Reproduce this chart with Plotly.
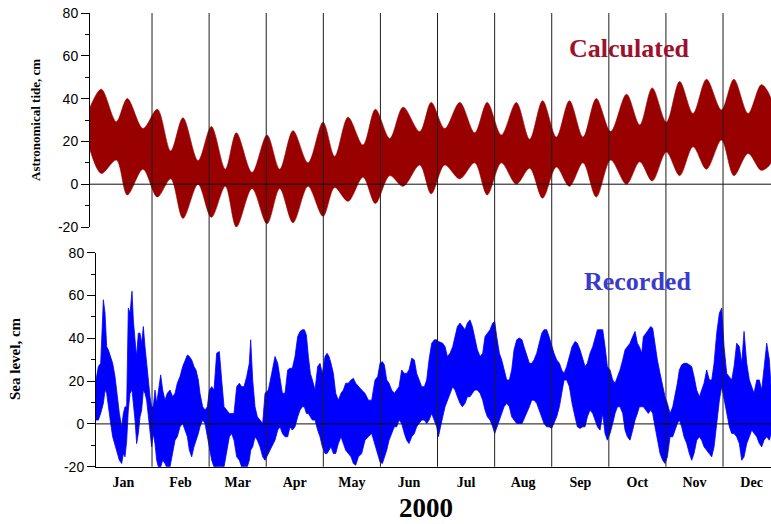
import plotly.graph_objects as go

# ---------------- data (time in months from 1 Jan 2000, values in cm) ----------------
months = ["Jan", "Feb", "Mar", "Apr", "May", "Jun",
          "Jul", "Aug", "Sep", "Oct", "Nov", "Dec"]

# Astronomical (calculated) tide: upper / lower envelope at spring and neap tides
tide_t = [-0.086, 0.112, 0.375, 0.567, 0.842, 1.093, 1.327, 1.542, 1.806, 2.039,
          2.284, 2.477, 2.752, 3.014, 3.236, 3.469, 3.732, 3.995, 4.199, 4.433,
          4.695, 4.912, 5.163, 5.397, 5.688, 5.89, 6.126, 6.39, 6.651, 6.87,
          7.118, 7.38, 7.614, 7.84, 8.081, 8.31, 8.548, 8.78, 9.033, 9.31,
          9.541, 9.76, 10.008, 10.24, 10.475, 10.71, 10.972, 11.19, 11.439, 11.67,
          11.84]
tide_hi = [36, 44.4, 29.2, 40, 26, 35, 15.5, 31, 11, 27,
           7, 24, 5.5, 23, 7, 25, 10, 29, 13, 31.3,
           18.3, 35, 21.4, 36, 24.6, 38.2, 26, 38.2, 24, 38.2,
           23, 38.2, 21, 39, 22, 39, 22, 40, 24.6, 42,
           27.7, 45, 29, 48, 33, 49, 34.7, 49, 33, 46.5,
           40]
tide_lo = [16, 5, 11.3, -5, 7, -6, 2.5, -16, 0, -15.5,
           -1, -20, -2, -18.5, -2, -18, -1, -15, -1.5, -8,
           3.3, -9, 4, -1, 9, -4.5, 9, 2.5, 10, -5,
           10, 0, 7.5, -6.5, 8, -1, 10, -6, 11.3, 0,
           10.5, 1.5, 15, 4, 17.5, 7, 20.6, 4, 14.4, 6.5,
           10]

# Recorded sea level: upper / lower envelope of the hourly record
sea_t = [0.019, 0.060, 0.101, 0.148, 0.177, 0.206, 0.235, 0.276, 0.311, 0.352,
         0.381, 0.428, 0.469, 0.498, 0.527, 0.556, 0.585, 0.615, 0.650, 0.673,
         0.702, 0.731, 0.760, 0.790, 0.819, 0.848, 0.877, 0.906, 0.936, 0.965,
         0.994, 1.023, 1.052, 1.082, 1.111, 1.152, 1.187, 1.227, 1.268, 1.315,
         1.362, 1.403, 1.443, 1.490, 1.537, 1.578, 1.619, 1.654, 1.695, 1.735,
         1.770, 1.811, 1.840, 1.887, 1.928, 1.969, 2.004, 2.045, 2.086, 2.132,
         2.179, 2.220, 2.261, 2.307, 2.354, 2.395, 2.436, 2.483, 2.529, 2.570,
         2.611, 2.658, 2.704, 2.728, 2.763, 2.804, 2.845, 2.891, 2.938,
         2.979, 3.037, 3.096, 3.154, 3.201, 3.242, 3.283, 3.329, 3.376, 3.417,
         3.458, 3.504, 3.551, 3.592, 3.633, 3.668, 3.703, 3.738, 3.773, 3.808,
         3.855, 3.901, 3.942, 3.983, 4.030, 4.065, 4.100, 4.135, 4.176, 4.217,
         4.263, 4.310, 4.351, 4.392, 4.438, 4.485, 4.526, 4.567, 4.614, 4.672,
         4.730, 4.789, 4.847, 4.905, 4.952, 4.993, 5.034, 5.069, 5.110, 5.151,
         5.197, 5.244, 5.285, 5.326, 5.372, 5.419, 5.460, 5.501, 5.548, 5.594,
         5.635, 5.676, 5.723, 5.769, 5.810, 5.851, 5.898, 5.945, 5.985, 6.015,
         6.091, 6.132, 6.172, 6.219, 6.266, 6.307, 6.348, 6.394, 6.435, 6.482,
         6.523, 6.569, 6.610, 6.651, 6.698, 6.745, 6.791, 6.832, 6.873, 6.920,
         6.966, 7.001, 7.036, 7.083, 7.124, 7.165, 7.212, 7.258, 7.299, 7.340,
         7.387, 7.433, 7.480, 7.515, 7.562, 7.608, 7.649, 7.690, 7.737, 7.778,
         7.825, 7.865, 7.912, 7.953, 7.999, 8.040, 8.087, 8.134, 8.175, 8.216,
         8.262, 8.309, 8.356, 8.408, 8.449, 8.496, 8.543, 8.583, 8.624, 8.671,
         8.718, 8.759, 8.800, 8.846,
         8.893, 8.934, 8.974, 9.021, 9.068, 9.109, 9.150, 9.196, 9.243, 9.284,
         9.325, 9.371, 9.418, 9.459, 9.500, 9.535, 9.576, 9.605, 9.652, 9.692,
         9.733, 9.768, 9.809, 9.850, 9.897, 9.943, 9.984, 10.025, 10.072, 10.119,
         10.159, 10.200, 10.235, 10.276, 10.317, 10.364, 10.410, 10.451, 10.492, 10.539,
         10.586, 10.626, 10.667, 10.714, 10.761, 10.802, 10.843, 10.889, 10.936, 10.977,
         11.018, 11.064, 11.111, 11.152, 11.193, 11.239, 11.286, 11.327, 11.368, 11.415,
         11.461, 11.502, 11.543, 11.590, 11.636, 11.677, 11.718, 11.765, 11.811, 11.841]
sea_hi = [20.5, 26.8, 28.3, 58, 51.8, 36.1, 34.6, 31.5, 28.3, 22.1,
          14.3, 4.9, -1.35, 4.9, 8, 8, 54.1, 51.8, 62, 48.6,
          39.3, 31.5, 42.4, 42.4, 37.7, 45.5, 36.1, 26.8, 20.5, 12.7,
          8, 8, 15.8, 9.6, 14.3, 22.9, 15.8, 11.1, 14.3, 15.8,
          12.7, 14.3, 19, 22.1, 26.8, 29.9, 32.2, 31.5, 29.9, 26.8,
          25.2, 20.5, 14.3, 8, 6.5, 8, 15.8, 17.4, 15.8, 33,
          33.8, 20.5, 8, 6.5, 4.9, 4.9, 4.9, 17.4, 19, 17.4,
          17.4, 22.1, 28.3, 39.3, 20.5, 8, 3.3, 1.8, 0.2,
          14.3, 15.8, 23.6, 31.5, 28.3, 20.5, 14.3, 14.3, 25.2, 26,
          26, 31.5, 40.8, 43.2, 44, 44, 41.6, 31.5, 23.6, 20.5,
          15.8, 26.8, 28.3, 23.6, 31.5, 33, 31.5, 28.3, 23.6, 14.3,
          11.1, 14.3, 15.8, 19, 19, 20.5, 21.3, 19, 17.4, 15.8,
          14.3, 11.1, 11.1, 20.5, 22.1, 28.3, 29.1, 27.6, 20.5, 19,
          15.8, 14.3, 15.8, 17.4, 25.2, 23.6, 23.6, 25.2, 30.7, 29.9,
          23.6, 20.5, 17.4, 17.4, 20.5, 29.9, 37.7, 39.3, 39.3, 38.5,
          37.7, 36.1, 31.5, 33, 36.1, 40.8, 45.5, 47.1, 45.5, 44,
          47.1, 48.6, 45.5, 40.8, 34.6, 31.5, 33, 40.8, 42.4, 44,
          47.1, 47.9, 40.8, 33, 29.9, 25.2, 20.5, 20.5, 25.2, 34.6,
          39.3, 40.1, 39.3, 36.1, 31.5, 28.3, 28.3, 29.9, 33, 37.7,
          42.4, 44, 44, 40.8, 36.1, 33, 29.9, 28.3, 25.2, 23.6,
          26.8, 31.5, 36.1, 38.5, 37.7, 34.6, 29.9, 26.8, 28.3, 33,
          36.1, 40.8, 44, 44,
          44, 36.1, 26.8, 25.2, 20.5, 19, 22.1, 25.2, 29.9, 34.6,
          36.1, 37.7, 40.8, 43.2, 37.7, 36.1, 33, 40.8, 42.4, 44,
          45.5, 44.7, 36.1, 29.9, 23.6, 17.4, 12.7, 9.6, 4.9, 8,
          12.7, 19, 25.2, 27.6, 28.3, 28.3, 27.6, 26.8, 22.1, 15.8,
          12.7, 15.8, 19, 25.2, 20.5, 20.5, 28.3, 42.4, 51.8, 54.1,
          36.1, 23.6, 22.1, 20.5, 26.8, 37.7, 36.1, 28.3, 43.2, 28.3,
          20.5, 17.4, 14.3, 20.5, 20.5, 15.8, 25.2, 37.7, 29.9, 17.4]
sea_lo = [1.8, 1.8, 4.9, 9.6, 15.8, 14.3, 8, 0.2, -6, -9.2,
          -12.3, -17, -18.5, -13.85, -15.4, -8, 6.5, 14.3, 15.8, 11.1,
          1.8, -9.2, -4.5, 3.3, 6.5, 15.8, 14.3, 11.1, 6.5, -2.9,
          -10.7, -4.5, -9.2, -17, -20.1, -20.1, -17, -18.5, -20.9, -20.1,
          -13.85, -7.6, -6, -1.35, 0.2, -2.9, -6, -12.3, -15.4, -10.7,
          -7.6, -4.5, -1.35, 1.8, 0.2, -6, -10.7, -17, -20.1, -20.1,
          -20.9, -20.9, -20.1, -13.85, -6, -4.5, -7.6, -15.4, -17, -20.1,
          -20.9, -20.9, -17, -12.3, -10.7, -6, -7.6, -10.7, -15.4,
          -17, -13.85, -10.7, -7.6, -2.9, -1.35, -4.5, -6, -6, -1.35,
          -2.9, -1.35, 3.3, 6.5, 8, 8, 4.9, 4.9, 3.3, 1.8,
          1.8, -2.9, -6, -10.7, -13.85, -13.85, -12.3, -10.7, -13.85, -13.85,
          -9.2, -6, -9.2, -12.3, -13.85, -15.4, -18.5, -19.3, -15.4, -13.85,
          -7.6, -6, -4.5, -9.2, -13.85, -17.8, -18.5, -15.4, -12.3, -7.6,
          -4.5, -1.35, -1.35, 1.8, 0.2, -4.5, -7.6, -9.2, -6, -4.5,
          -1.35, 0.2, 1.8, 1.8, 0.2, 1.8, 4.9, 1.8, -1.35, -6,
          3.3, 8, 11.1, 14.3, 17.4, 15.8, 12.7, 9.6, 8, 9.6,
          12.7, 12.7, 14.3, 15.8, 15.8, 14.3, 11.1, 6.5, 3.3, 1.8,
          -1.35, -4.5, -1.35, 1.8, 4.9, 8, 9.6, 8, 3.3, 1.8,
          0.2, 0.2, 0.2, 1.8, 4.9, 8, 11.1, 11.1, 9.6, 6.5,
          3.3, 0.2, -1.35, -1.35, -2.1, 0.2, 3.3, 8, 14.3, 20.5,
          20.5, 17.4, 9.6, 3.3, -1.35, -2.1, -1.35, -1.35, 3.3, 6.5,
          4.9, 1.8, -1.35, -2.9,
          4.9, -4.5, -7.6, -4.5, 0.2, 4.9, 8, 8, 4.9, -2.9,
          -6, -7.6, -2.9, 1.8, 4.9, 8, 8, 8, 6.5, 4.9,
          6.5, 4.9, -1.35, -6, -13.85, -17, -18.5, -15.4, -6, -6,
          -2.9, 0.2, 1.8, -1.35, -6, -9.2, -13.85, -17, -13.85, -7.6,
          -6, -7.6, -10.7, -12.3, -13.85, -15.4, -10.7, 0.2, 11.1, 17.4,
          11.1, 4.9, -1.35, -4.5, -4.5, -6, -9.2, -17, -15.4, -9.2,
          -6, -2.9, -4.5, -6, -9.2, -10.7, -7.6, -6, -7.6, -4.5]

month_bounds = list(range(1, 12))
month_mid = [k + 0.5 for k in range(12)]
y_ticks = [-20, 0, 20, 40, 60, 80]
y_minor = [-10, 10, 30, 50, 70]

# ---------------- figure ----------------
W, H = 771, 524
RED = "#990000"
BLUE = "#0000ff"
SERIF = "Liberation Serif"
SANS = "Liberation Sans"

fig = go.Figure()

fig.add_trace(go.Scatter(
    x=tide_t + tide_t[::-1], y=tide_hi + tide_lo[::-1],
    xaxis="x", yaxis="y", mode="lines", fill="toself",
    fillcolor=RED, line=dict(color=RED, width=0.6, shape="spline", smoothing=0.9),
    hoverinfo="skip", showlegend=False))

fig.add_trace(go.Scatter(
    x=sea_t + sea_t[::-1], y=sea_hi + sea_lo[::-1],
    xaxis="x2", yaxis="y2", mode="lines", fill="toself",
    fillcolor=BLUE, line=dict(color=BLUE, width=0.8),
    hoverinfo="skip", showlegend=False))

y_common = dict(
    range=[-20, 80], showgrid=False, zeroline=False, automargin=False,
    showline=True, linecolor="black", linewidth=1,
    ticks="outside", ticklen=8, tickwidth=1, tickcolor="black",
    tickvals=y_ticks, ticktext=[str(v) for v in y_ticks],
    tickfont=dict(family=SANS, size=14, color="black"),
    minor=dict(tickvals=y_minor, ticks="outside", ticklen=4,
               tickwidth=1, tickcolor="black"),
)

top_lo, top_hi = 1 - 227 / H, 1 - 13 / H
bot_lo, bot_hi = 1 - 466.7 / H, 1 - 252.7 / H

fig.update_layout(
    width=W, height=H,
    margin=dict(l=0, r=0, t=0, b=0, autoexpand=False),
    paper_bgcolor="white", plot_bgcolor="white",
    showlegend=False,
    xaxis=dict(domain=[90 / W, 1], range=[-0.086, 11.84], anchor="y",
               visible=False, automargin=False),
    yaxis=dict(domain=[top_lo, top_hi], anchor="x", **y_common),
    xaxis2=dict(domain=[96 / W, 1], range=[0.019, 11.84], anchor="y2",
                showgrid=False, zeroline=False, automargin=False,
                showline=True, linecolor="black", linewidth=1,
                ticks="", tickvals=month_mid, ticktext=months,
                ticklabelstandoff=2,
                tickfont=dict(family=SERIF, size=14, color="black",
                              weight="bold")),
    yaxis2=dict(domain=[bot_lo, bot_hi], anchor="x2", **y_common),
)

# month separators running through both panels
for b in month_bounds:
    fig.add_shape(type="line", xref="x2", yref="paper",
                  x0=b, x1=b, y0=bot_lo, y1=top_hi,
                  line=dict(color="#1e1e1e", width=1), layer="above")

# zero reference lines
fig.add_shape(type="line", xref="x", yref="y", x0=-0.086, x1=11.84, y0=0, y1=0,
              line=dict(color="#111111", width=1), layer="above")
fig.add_shape(type="line", xref="x2", yref="y2", x0=0.019, x1=11.84, y0=0, y1=0,
              line=dict(color="#111111", width=1), layer="above")

def label(text, x, y, size, color="black", angle=0):
    fig.add_annotation(text=text, xref="paper", yref="paper",
                       x=x / W, y=1 - y / H, xanchor="center", yanchor="middle",
                       showarrow=False, textangle=angle,
                       font=dict(family=SERIF, size=size, color=color,
                                 weight="bold"))

label("Calculated", 629, 48, 26, "#a0102a")
label("Recorded", 637, 281, 26, "#3a3acb")
label("2000", 426, 508, 27)
label("Astronomical tide, cm", 36, 120, 13, angle=-90)
label("Sea level, cm", 15, 359, 15, angle=-90)

fig.write_html("out.html")
